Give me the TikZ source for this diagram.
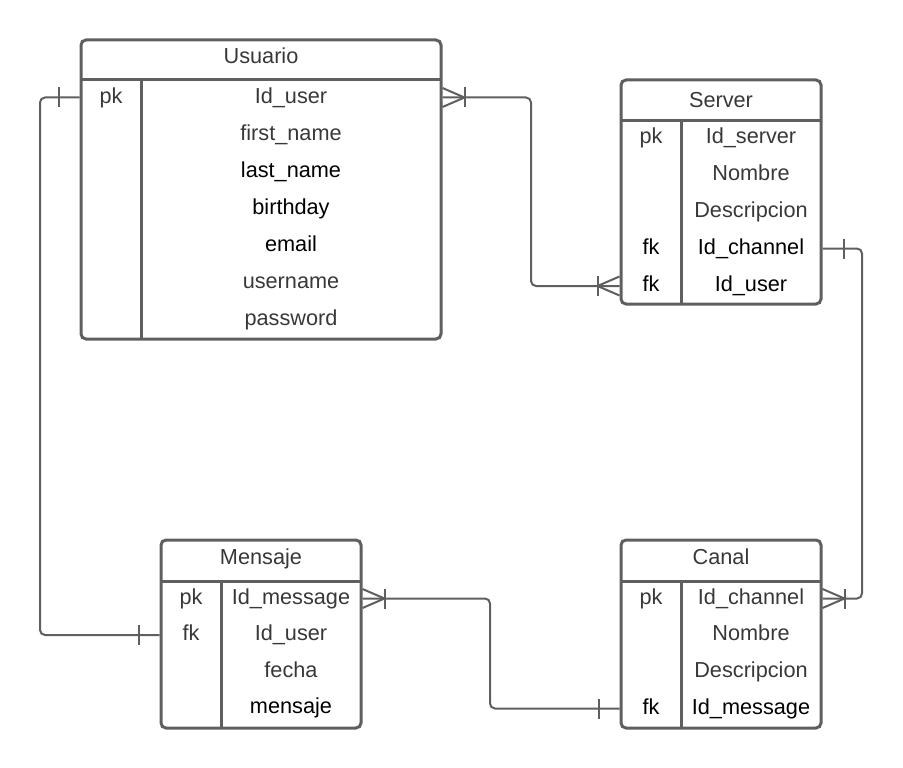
\documentclass[tikz,border=0pt]{standalone}
\usepackage{fontspec}
\setmainfont{Liberation Sans}
\definecolor{lc}{HTML}{5F5F5F}
\definecolor{tc}{HTML}{383838}
\newcommand\fsz{\fontsize{21.7pt}{26pt}\selectfont}
\begin{document}
\begin{tikzpicture}[x=1pt,y=-1pt,
  tbl/.style={draw=lc, line width=3pt, rounded corners=5pt, inner sep=0pt},
  inner/.style={draw=lc, line width=3pt},
  fld/.style={text=tc, font=\fsz, inner sep=0pt, text height=16pt, text depth=5pt},
  dk/.style={fld, text=black},
  conn/.style={draw=lc, line width=2pt},
  wire/.style={conn, rounded corners=5pt},
  manyfoot/.pic={\draw[conn] (0,-9.5) -- (22,0) -- (0,9.5); \draw[conn] (22,-10) -- (22,10);},
  onebar/.pic={\draw[conn] (21,-10) -- (21,10);}
]
\useasboundingbox (0,0) rectangle (903,768);

% tables
\node[tbl, minimum width=360pt, minimum height=299pt] (usuario) at (261,189.5) {};
\node[tbl, minimum width=200pt, minimum height=224pt] (server) at (721,192) {};
\node[tbl, minimum width=200pt, minimum height=188pt] (mensaje) at (261,634) {};
\node[tbl, minimum width=200pt, minimum height=188pt] (canal) at (721,634) {};

\draw[inner] (81,80) -- (441,80);
\draw[inner] (141,80) -- (141,339);
\draw[inner] (621,120) -- (821,120);
\draw[inner] (681,120) -- (681,304);
\draw[inner] (161,581) -- (361,581);
\draw[inner] (221,581) -- (221,728);
\draw[inner] (621,581) -- (821,581);
\draw[inner] (681,581) -- (681,728);

% Usuario
\node[fld] (ut) at (261,58.5) {Usuario};
\node[fld] (u1) at (111,97.5) {pk};
\node[fld] (ua) at (291,97.5) {Id\_user};
\node[fld] (ub) at (291,134.5) {first\_name};
\node[dk]  (uc) at (291,171.5) {last\_name};
\node[dk]  (ud) at (291,208.5) {birthday};
\node[dk]  (ue) at (291,245.5) {email};
\node[fld] (uf) at (291,282.5) {username};
\node[fld] (ug) at (291,319.5) {password};

% Server
\node[fld] (st) at (721,101.5) {Server};
\node[fld] (s1) at (651,137.5) {pk};
\node[dk]  (s4) at (651,248.5) {fk};
\node[dk]  (s5) at (651,286) {fk};
\node[fld] (sa) at (751,137.5) {Id\_server};
\node[fld] (sb) at (751,174.5) {Nombre};
\node[fld] (sc) at (751,211.5) {Descripcion};
\node[dk]  (sd) at (751,248.5) {Id\_channel};
\node[dk]  (se) at (751,286) {Id\_user};

% Mensaje
\node[fld] (mt) at (261,558.5) {Mensaje};
\node[fld] (m1) at (191,598.5) {pk};
\node[fld] (m2) at (191,635) {fk};
\node[fld] (ma) at (291,598.5) {Id\_message};
\node[fld] (mb) at (291,635) {Id\_user};
\node[fld] (mc) at (291,671.5) {fecha};
\node[dk]  (md) at (291,708) {mensaje};

% Canal
\node[fld] (kt) at (721,558.5) {Canal};
\node[fld] (k1) at (651,598.5) {pk};
\node[dk]  (k4) at (651,708.5) {fk};
\node[fld] (ka) at (751,598.5) {Id\_channel};
\node[fld] (kb) at (751,635) {Nombre};
\node[fld] (kc) at (751,671.5) {Descripcion};
\node[dk]  (kd) at (751,708.5) {Id\_message};

% connector routing columns
\coordinate (c1) at (40,0);
\coordinate (c2) at (531,0);
\coordinate (c3) at (862,0);
\coordinate (c4) at (490,0);

% Usuario -> Mensaje
\draw[wire] (usuario.west |- u1) -- (c1 |- u1) -- (c1 |- m2) -- (mensaje.west |- m2);
\pic[xscale=-1] at (usuario.west |- u1) {onebar};
\pic[xscale=-1] at (mensaje.west |- m2) {onebar};

% Usuario -> Server
\draw[wire] (usuario.east |- u1) -- (c2 |- u1) -- (c2 |- s5) -- (server.west |- s5);
\pic at (usuario.east |- u1) {manyfoot};
\pic[xscale=-1] at (server.west |- s5) {manyfoot};

% Server -> Canal
\draw[wire] (server.east |- s4) -- (c3 |- s4) -- (c3 |- k1) -- (canal.east |- k1);
\pic at (server.east |- s4) {onebar};
\pic at (canal.east |- k1) {manyfoot};

% Mensaje -> Canal
\draw[wire] (mensaje.east |- m1) -- (c4 |- m1) -- (c4 |- k4) -- (canal.west |- k4);
\pic at (mensaje.east |- m1) {manyfoot};
\pic[xscale=-1] at (canal.west |- k4) {onebar};
\end{tikzpicture}
\end{document}
